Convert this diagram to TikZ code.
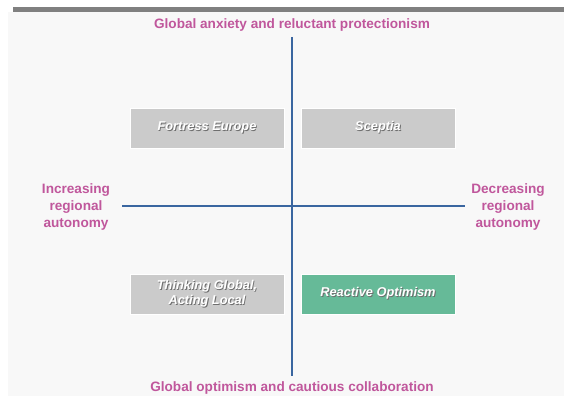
\documentclass[tikz,border=0pt]{standalone}
\usepackage{fontspec}
\setmainfont{Liberation Sans}
\usepackage{xcolor}
\usepackage{tikz}

\definecolor{pagebg}{HTML}{F8F8F8}
\definecolor{bargrey}{HTML}{808080}
\definecolor{axisblue}{HTML}{3A66A0}
\definecolor{labelpink}{HTML}{C0579C}
\definecolor{boxgrey}{HTML}{CBCBCB}
\definecolor{boxgreen}{HTML}{66BA98}
\definecolor{shadowgrey}{HTML}{6E6E6E}

\newcommand{\shadowed}[1]{\leavevmode\rlap{\hspace{0.9pt}\raisebox{-0.9pt}{\textcolor{shadowgrey}{#1}}}#1}

\tikzset{
  quadbox/.style={fill=boxgrey, draw=white, line width=0.8pt, minimum width=154pt, minimum height=40pt,
    inner sep=0pt, text=white, align=center, font=\fontsize{12.8}{15.5}\selectfont\bfseries\itshape},
  axislabel/.style={text=labelpink, align=center, font=\fontsize{13.6}{17}\selectfont\bfseries},
  axisline/.style={draw=axisblue, line width=2.6pt},
}

\begin{document}
\begin{tikzpicture}[x=1pt,y=-1pt]
\useasboundingbox (0,0) rectangle (564,396);
\fill[pagebg] (8,12) rectangle (564,396);
\fill[bargrey] (13,7) rectangle (564,12);

% axes
\coordinate (top) at (292,37);
\coordinate (bottom) at (292,376);
\coordinate (left) at (122,206);
\coordinate (right) at (465,206);
\draw[axisline] (top) -- (bottom);
\draw[axisline] (left) -- (right);

% axis ends
\node[axislabel] (anxiety) at (292,25) {Global anxiety and reluctant protectionism};
\node[axislabel, anchor=base, inner sep=0pt] (optimism) at (292,391.5) {Global optimism and cautious collaboration};
\node[axislabel] (increasing) at (76,207) {Increasing\\regional\\autonomy};
\node[axislabel] (decreasing) at (508,207) {Decreasing\\regional\\autonomy};

% scenarios
\node[quadbox] (fortress) at (207,128) {\shadowed{Fortress Europe}};
\node[quadbox] (sceptia) at (378,128) {\shadowed{Sceptia}};
\node[quadbox] (thinking) at (207,294) {\shadowed{Thinking Global,}\\\shadowed{Acting Local}};
\node[quadbox, fill=boxgreen] (reactive) at (378,294) {\shadowed{Reactive Optimism}};

\end{tikzpicture}
\end{document}
